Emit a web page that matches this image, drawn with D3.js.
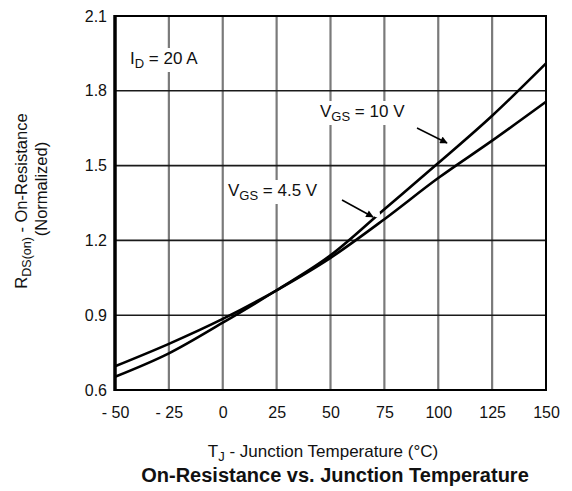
<!DOCTYPE html>
<html>
<head>
<meta charset="utf-8">
<script src="https://cdn.jsdelivr.net/npm/d3@7"></script>
<style>
  body { margin: 0; background: #fff; }
  text { font-family: "Liberation Sans", Arial, sans-serif; fill: #111; }
</style>
</head>
<body>
<div id="chart"></div>
<script>
  var temps = [-50, -25, 0, 25, 50, 75, 100, 125, 150];
  var rds10 = [0.653, 0.747, 0.87, 1.0, 1.14, 1.325, 1.51, 1.70, 1.91];
  var rds45 = [0.695, 0.785, 0.885, 1.0, 1.13, 1.285, 1.45, 1.60, 1.756];
  var xTicks = [-50, -25, 0, 25, 50, 75, 100, 125, 150];
  var yTicks = [0.6, 0.9, 1.2, 1.5, 1.8, 2.1];

  var margin = {top: 16, right: 26, bottom: 101, left: 115},
      width = 572 - margin.left - margin.right,
      height = 491 - margin.top - margin.bottom;

  var svg = d3.select("#chart").append("svg")
      .attr("width", 572)
      .attr("height", 491);

  var g = svg.append("g")
      .attr("transform", "translate(" + margin.left + "," + margin.top + ")");

  var x = d3.scaleLinear().domain([-50, 150]).range([0, width]);
  var y = d3.scaleLinear().domain([0.6, 2.1]).range([height, 0]);

  // grid
  g.selectAll(".vgrid").data(xTicks.slice(1, -1)).enter().append("line")
      .attr("x1", function(d) { return x(d); })
      .attr("x2", function(d) { return x(d); })
      .attr("y1", 0).attr("y2", height)
      .attr("stroke", "#7a7a7a").attr("stroke-width", 2.2);

  g.selectAll(".hgrid").data(yTicks.slice(1, -1)).enter().append("line")
      .attr("x1", 0).attr("x2", width)
      .attr("y1", function(d) { return y(d); })
      .attr("y2", function(d) { return y(d); })
      .attr("stroke", "#1a1a1a").attr("stroke-width", 1.6);

  // label boxes that break the grid
  function label(tx, ty, main, sub, rest) {
    var t = g.append("text").attr("x", tx).attr("y", ty).style("font-size", "17px");
    t.append("tspan").text(main);
    t.append("tspan").attr("dy", 4).style("font-size", "13px").text(sub);
    t.append("tspan").attr("dy", -4).text(rest);
    var b = t.node().getBBox();
    g.insert("rect", "text")
        .attr("x", b.x - 2).attr("y", b.y - 1)
        .attr("width", b.width + 4).attr("height", b.height + 2)
        .attr("fill", "#fff");
  }

  // curves
  var line = d3.line()
      .x(function(d) { return x(d[0]); })
      .y(function(d) { return y(d[1]); })
      .curve(d3.curveMonotoneX);

  [rds10, rds45].forEach(function(s) {
    g.append("path")
        .datum(temps.map(function(t, i) { return [t, s[i]]; }))
        .attr("d", line)
        .attr("fill", "none")
        .attr("stroke", "#000")
        .attr("stroke-width", 2.6);
  });

  // small break in the 10 V curve at the 4.5 V arrow tip
  g.append("circle")
      .attr("cx", x(71.5)).attr("cy", y(1.306))
      .attr("r", 3.2).attr("fill", "#fff");

  label(15, 48, "I", "D", " = 20 A");
  label(205, 101, "V", "GS", " = 10 V");
  label(113, 180, "V", "GS", " = 4.5 V");

  // arrows
  svg.append("defs").append("marker")
      .attr("id", "head")
      .attr("viewBox", "0 0 10 10")
      .attr("refX", 9).attr("refY", 5)
      .attr("markerWidth", 6).attr("markerHeight", 5)
      .attr("orient", "auto")
      .append("path").attr("d", "M0,0L10,5L0,10z").attr("fill", "#000");

  [[302, 112, 332, 127], [227, 184, 258, 201]].forEach(function(a) {
    g.append("line")
        .attr("x1", a[0]).attr("y1", a[1]).attr("x2", a[2]).attr("y2", a[3])
        .attr("stroke", "#000").attr("stroke-width", 1.5)
        .attr("marker-end", "url(#head)");
  });

  // frame
  g.append("rect")
      .attr("width", width).attr("height", height)
      .attr("fill", "none").attr("stroke", "#000").attr("stroke-width", 2);
  g.append("line")
      .attr("x1", 0).attr("x2", 0).attr("y1", -1).attr("y2", height + 1)
      .attr("stroke", "#000").attr("stroke-width", 3.5);

  // axes (labels only)
  var xAxis = g.append("g")
      .attr("transform", "translate(0," + height + ")")
      .call(d3.axisBottom(x).tickValues(xTicks).tickSize(0).tickPadding(17)
        .tickFormat(function(d) { return d < 0 ? "- " + Math.abs(d) : d; }));
  xAxis.select(".domain").remove();
  xAxis.selectAll("text").style("font-size", "16px").style("font-family", "'Liberation Sans', Arial, sans-serif").attr("fill", "#111");

  var yAxis = g.append("g")
      .call(d3.axisLeft(y).tickValues(yTicks).tickSize(0).tickPadding(8)
        .tickFormat(d3.format(".1f")));
  yAxis.select(".domain").remove();
  yAxis.selectAll("text").style("font-size", "16px").style("font-family", "'Liberation Sans', Arial, sans-serif").attr("fill", "#111");

  // axis titles
  var xt = svg.append("text")
      .attr("x", 323).attr("y", 457)
      .attr("text-anchor", "middle").style("font-size", "17px");
  xt.append("tspan").text("T");
  xt.append("tspan").attr("dy", 4).style("font-size", "13px").text("J");
  xt.append("tspan").attr("dy", -4).text(" - Junction Temperature (°C)");

  svg.append("text")
      .attr("x", 335).attr("y", 482)
      .attr("text-anchor", "middle")
      .style("font-size", "20px").style("font-weight", "bold")
      .text("On-Resistance vs. Junction Temperature");

  var yt = svg.append("text")
      .attr("transform", "translate(27,201) rotate(-90)")
      .attr("text-anchor", "middle").style("font-size", "16.5px");
  yt.append("tspan").text("R");
  yt.append("tspan").attr("dy", 4).style("font-size", "12.5px").text("DS(on)");
  yt.append("tspan").attr("dy", -4).text(" - On-Resistance");

  svg.append("text")
      .attr("transform", "translate(47,189) rotate(-90)")
      .attr("text-anchor", "middle").style("font-size", "16.5px")
      .text("(Normalized)");
</script>
</body>
</html>
